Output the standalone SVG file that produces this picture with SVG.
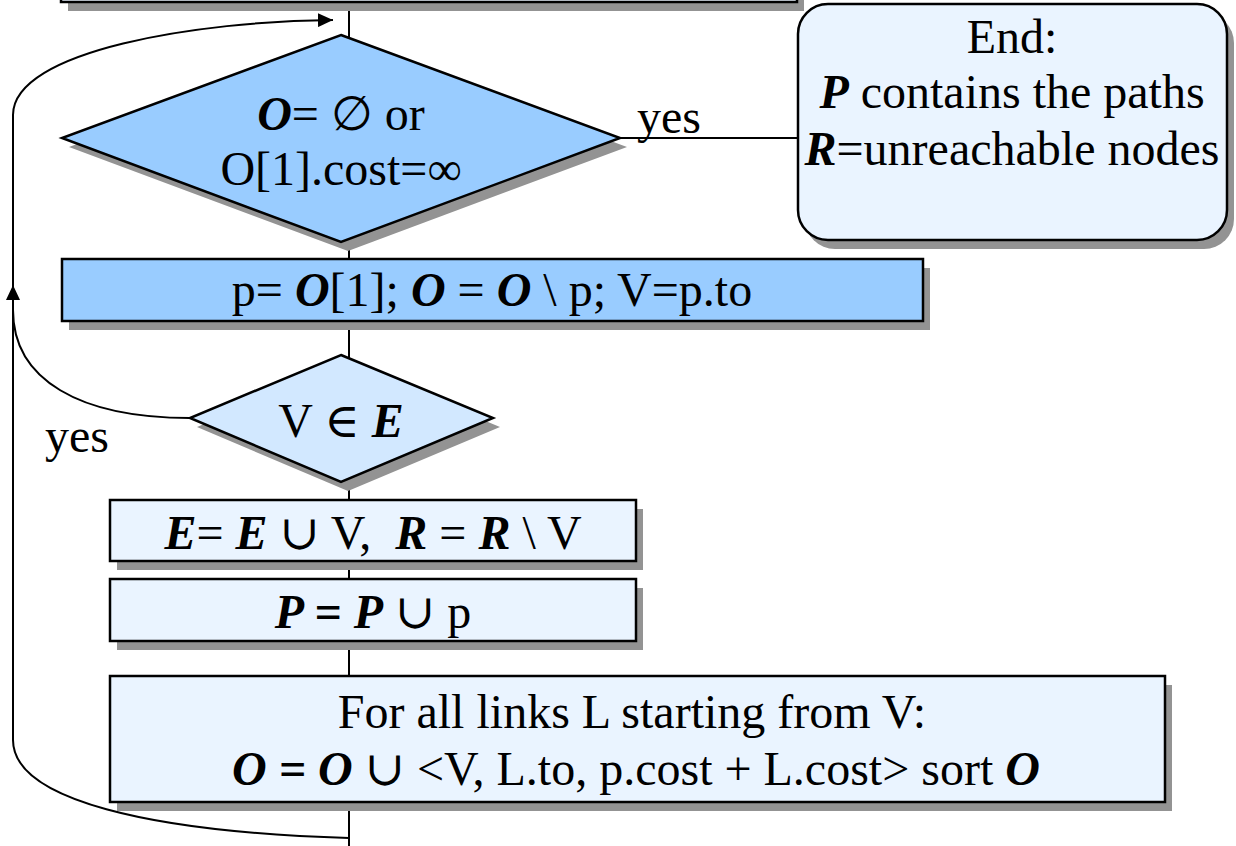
<svg xmlns="http://www.w3.org/2000/svg" width="1236" height="846" viewBox="0 0 1236 846">
<style>
  .t{font-family:"Liberation Serif","DejaVu Serif",serif;font-size:48px;fill:#000;text-anchor:middle}
  .l{font-family:"Liberation Serif","DejaVu Serif",serif;font-size:48px;fill:#000}
  .bi{font-weight:bold;font-style:italic}
  .sh{fill:#939393;stroke:none}
  .n{stroke:#000;stroke-width:2.5}
  .dark{fill:#99ccff}
  .mid{fill:#d2e8ff}
  .light{fill:#eaf4ff}
  .c{fill:none;stroke:#000;stroke-width:2}
</style>
<defs>
  <marker id="arr" viewBox="0 0 15 14" refX="15" refY="7" markerWidth="15" markerHeight="14" markerUnits="userSpaceOnUse" orient="auto">
    <path d="M0,0 L15,7 L0,14 Z" fill="#000"/>
  </marker>
</defs>
<rect width="1236" height="846" fill="#fff"/>
<g id="connectors">
  <line class="c" x1="349" y1="0" x2="349" y2="846"/>
  <line class="c" x1="620" y1="138" x2="798" y2="138"/>
  <path class="c" d="M349,838 C150,832 13,800 13,740 L13,115 C13,50 200,21 333,20" marker-end="url(#arr)"/>
  <path class="c" d="M190,418 C80,418 13,380 13,310 L13,285" marker-end="url(#arr)"/>
</g>
<g id="top-box">
  <rect class="sh" x="68" y="-51" width="736" height="62"/>
  <rect class="n light" x="61" y="-60" width="736" height="62"/>
</g>
<g id="end-box">
  <rect class="sh" x="805" y="13" width="429" height="236" rx="30"/>
  <rect class="n light" x="798" y="4" width="429" height="236" rx="30"/>
  <text class="t" x="1012" y="53">End:</text>
  <text class="t" x="1012" y="108"><tspan class="bi">P</tspan> contains the paths</text>
  <text class="t" x="1012" y="165"><tspan class="bi">R</tspan>=unreachable nodes</text>
</g>
<g id="decision-empty">
  <polygon class="sh" points="348,44 627,147 348,251 69,147"/>
  <polygon class="n dark" points="341,35 620,138 341,242 62,138"/>
  <text class="t" x="341" y="130"><tspan class="bi">O</tspan>= ∅ or</text>
  <text class="t" x="341" y="185">O[1].cost=∞</text>
</g>
<text class="l" x="637" y="133">yes</text>
<g id="pop-box">
  <rect class="sh" x="69" y="268" width="861" height="62"/>
  <rect class="n dark" x="62" y="259" width="861" height="62"/>
  <text class="t" x="492" y="306">p= <tspan class="bi">O</tspan>[1]; <tspan class="bi">O</tspan> = <tspan class="bi">O</tspan> \ p; V=p.to</text>
</g>
<g id="decision-visited">
  <polygon class="sh" points="348,364 500,427 348,491 197,427"/>
  <polygon class="n mid" points="341,355 493,418 341,482 190,418"/>
  <text class="t" x="341" y="437">V ∈ <tspan class="bi">E</tspan></text>
</g>
<text class="l" x="45" y="452">yes</text>
<g id="explored-box">
  <rect class="sh" x="117" y="509" width="526" height="61"/>
  <rect class="n light" x="110" y="500" width="526" height="61"/>
  <text class="t" x="373" y="549"><tspan class="bi">E</tspan>= <tspan class="bi">E</tspan> ∪ V,&#160; <tspan class="bi">R</tspan> = <tspan class="bi">R</tspan> \ V</text>
</g>
<g id="paths-box">
  <rect class="sh" x="117" y="588" width="526" height="62"/>
  <rect class="n light" x="110" y="579" width="526" height="62"/>
  <text class="t" x="373" y="628"><tspan class="bi">P = P</tspan> ∪ p</text>
</g>
<g id="links-box">
  <rect class="sh" x="117" y="685" width="1055" height="126"/>
  <rect class="n light" x="110" y="676" width="1055" height="126"/>
  <text class="t" x="632" y="728">For all links L starting from V:</text>
  <text class="t" x="636" y="785"><tspan class="bi">O = O</tspan> ∪ &lt;V, L.to, p.cost + L.cost&gt; sort <tspan class="bi">O</tspan></text>
</g>
</svg>
